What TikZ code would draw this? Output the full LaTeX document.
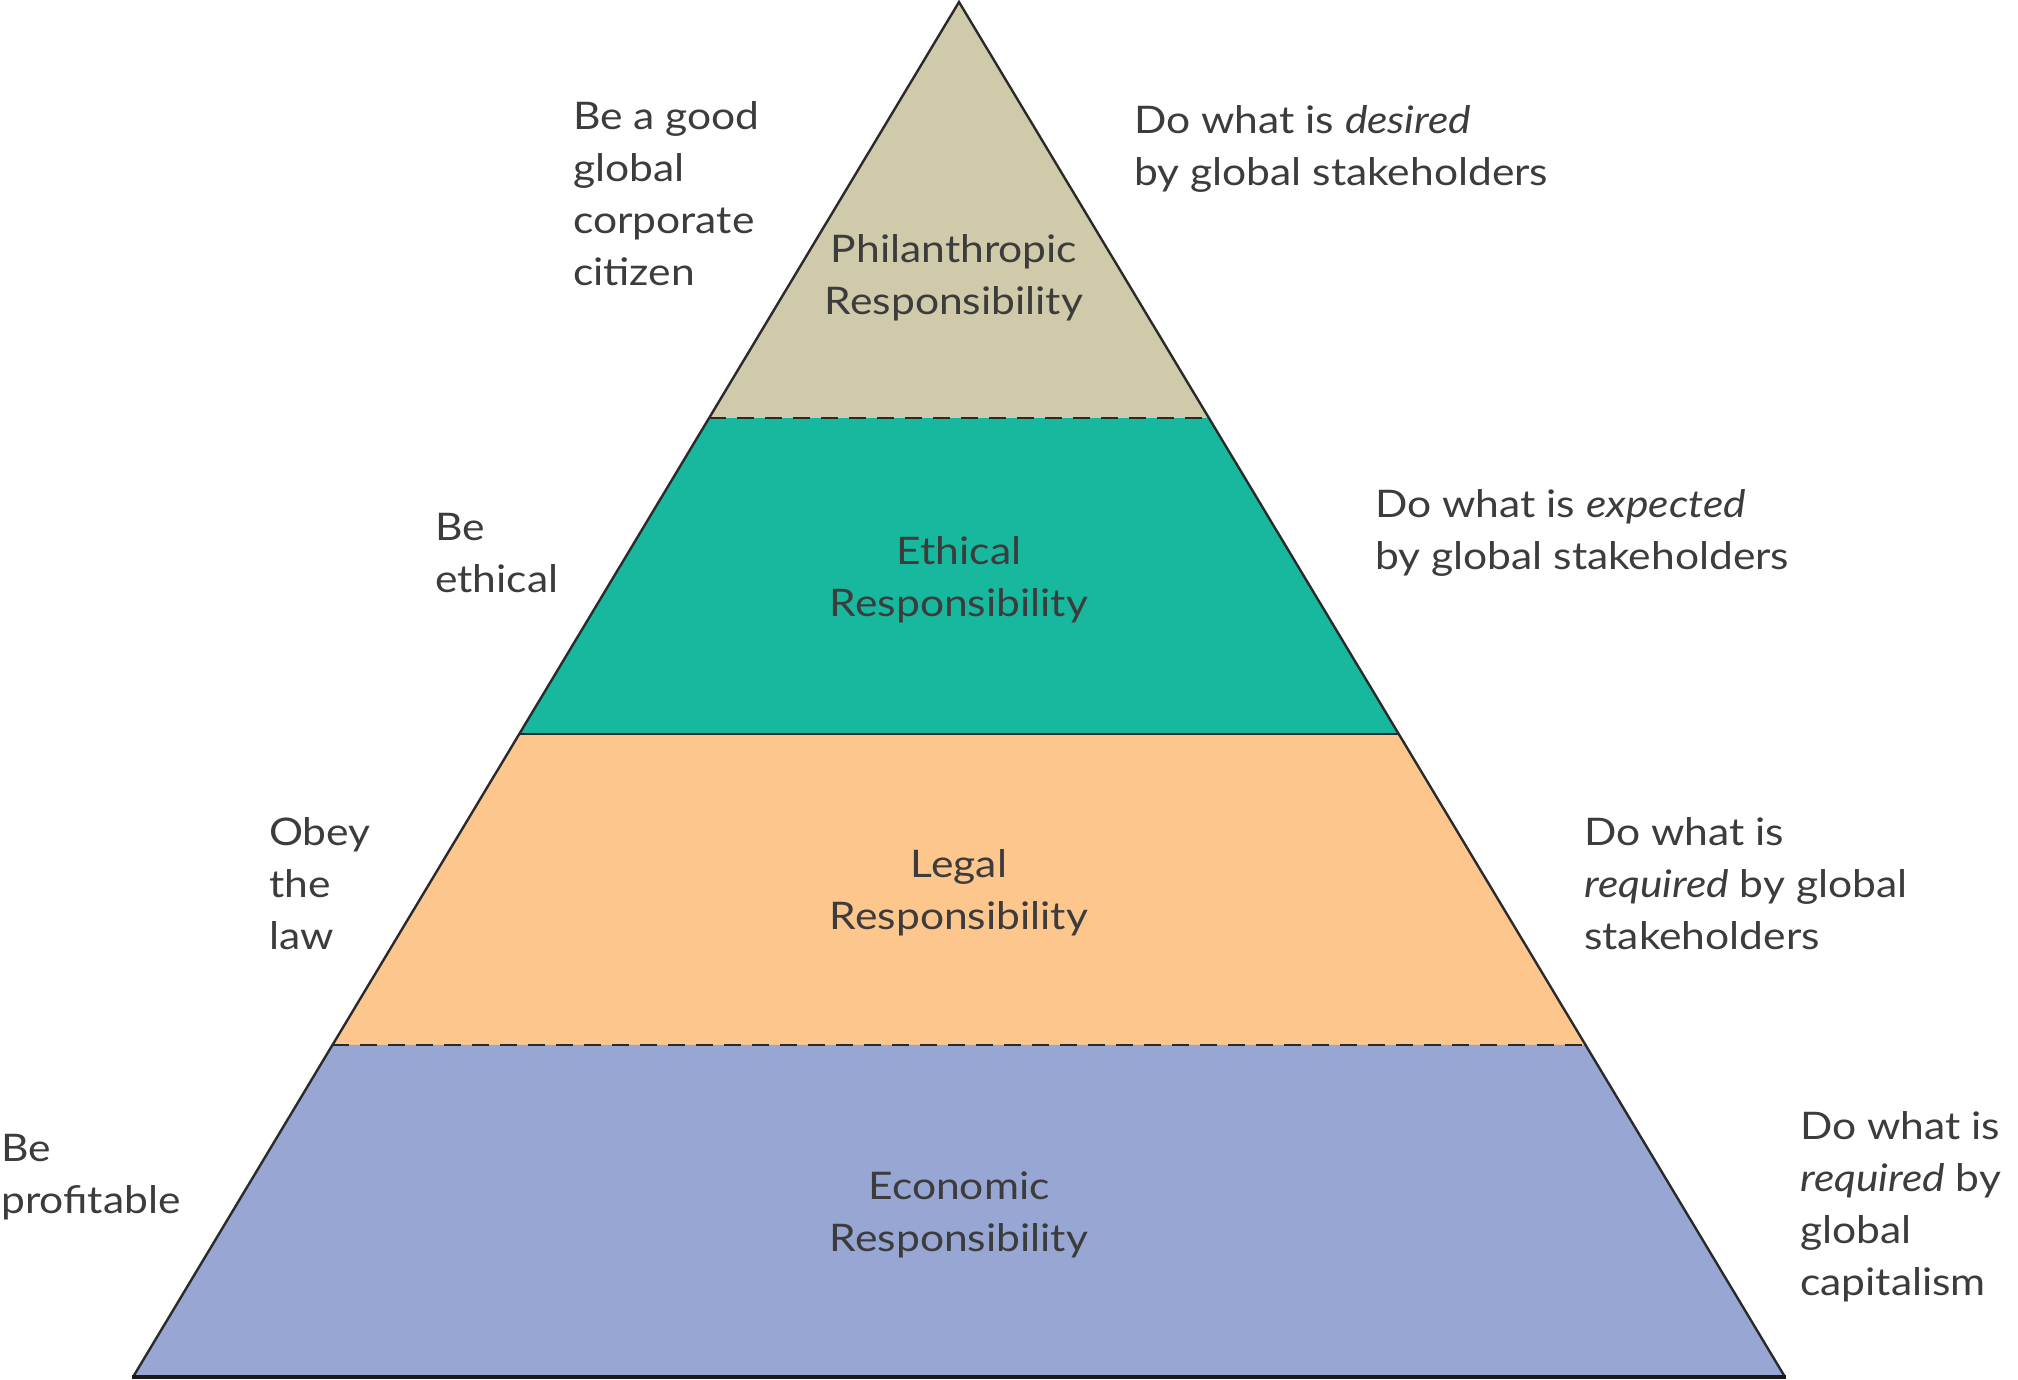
\documentclass[tikz,border=0pt]{standalone}
\usepackage{fontspec}
\usetikzlibrary{calc}
\setmainfont{Lato}[FakeStretch=1.12]
\definecolor{phil}{HTML}{CFCAAA}
\definecolor{ethi}{HTML}{17B89E}
\definecolor{lega}{HTML}{FCC68C}
\definecolor{econ}{HTML}{97A6D2}
\definecolor{txt}{HTML}{3C3C3C}
\definecolor{edge}{HTML}{2A2A2A}
\begin{document}
\begin{tikzpicture}[x=1pt,y=-1pt,
  lbl/.style={font=\fontsize{38}{52}\selectfont,text=txt,align=left,anchor=west,inner sep=0pt},
  ctr/.style={font=\fontsize{38}{52}\selectfont,text=txt,align=center,inner sep=0pt},
  dashline/.style={edge,line width=2.6pt,dash pattern=on 17pt off 11pt},
  solidline/.style={edge,line width=2.6pt}]
\useasboundingbox (0,0) rectangle (2018,1380);
% corners
\coordinate (A) at (959,2);
\coordinate (BL) at (133,1377);
\coordinate (BR) at (1785,1377);
\coordinate (L1) at ($(A)!0.3026!(BL)$);
\coordinate (R1) at ($(A)!0.3026!(BR)$);
\coordinate (L2) at ($(A)!0.5324!(BL)$);
\coordinate (R2) at ($(A)!0.5324!(BR)$);
\coordinate (L3) at ($(A)!0.7585!(BL)$);
\coordinate (R3) at ($(A)!0.7585!(BR)$);
\fill[phil] (A) -- (R1) -- (L1) -- cycle;
\fill[ethi] (L1) -- (R1) -- (R2) -- (L2) -- cycle;
\fill[lega] (L2) -- (R2) -- (R3) -- (L3) -- cycle;
\fill[econ] (L3) -- (R3) -- (BR) -- (BL) -- cycle;
\draw[dashline] (L1) -- (R1);
\draw[solidline] (L2) -- (R2);
\draw[dashline] (L3) -- (R3);
\draw[edge,line width=2.4pt,line join=miter] (BL) -- (A) -- (BR);
\draw[black!90,line width=4.5pt] ([xshift=-1pt]BL) -- ([xshift=1pt]BR);
% centre labels
\node[ctr] (tphil) at (954,278) {Philanthropic\\Responsibility};
\node[ctr] (tethi) at (959,580) {Ethical\\Responsibility};
\node[ctr] (tlega) at (959,893) {Legal\\Responsibility};
\node[ctr] (tecon) at (959,1215) {Economic\\Responsibility};
% left labels
\node[lbl] (lphil) at (573,194) {Be a good\\global\\corporate\\citizen};
\node[lbl] (lethi) at (435,553) {Be\\ethical};
\node[lbl] (llega) at (269,884) {Obey\\the\\law};
\node[lbl] (lecon) at (1,1177) {Be\\profitable};
% right labels
\node[lbl] (rphil) at (1134,149) {Do what is \textit{desired}\\by global stakeholders};
\node[lbl] (rethi) at (1375,533) {Do what is \textit{expected}\\by global stakeholders};
\node[lbl] (rlega) at (1584,884) {Do what is\\\textit{required} by global\\stakeholders};
\node[lbl] (recon) at (1800,1207) {Do what is\\\textit{required} by\\global\\capitalism};
\end{tikzpicture}
\end{document}
